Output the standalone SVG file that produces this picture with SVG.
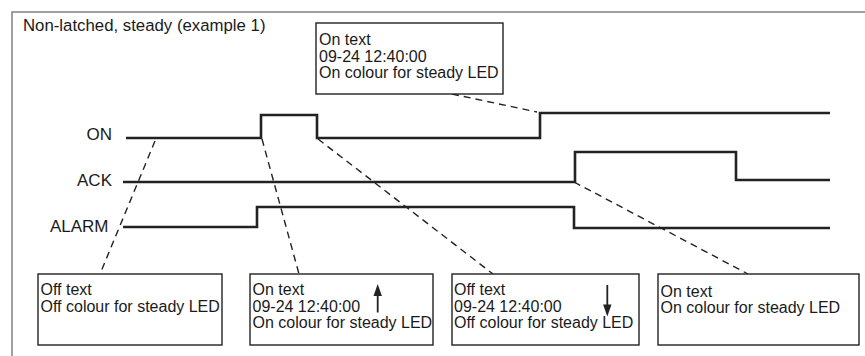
<svg xmlns="http://www.w3.org/2000/svg" width="865" height="356" viewBox="0 0 865 356">
<style>
text{font-family:"Liberation Sans",Arial,sans-serif;fill:#1a1a1a}
.t{font-size:16px}
.lbl{font-size:17px;text-anchor:end}
.box{fill:#fff;stroke:#222;stroke-width:1.4}
.sig{fill:none;stroke:#222;stroke-width:2.6;stroke-linejoin:miter}
.dash{fill:none;stroke:#222;stroke-width:1.4;stroke-dasharray:7 5}
.frame{fill:none;stroke:#808080;stroke-width:1.5}
.arr{stroke:#222;stroke-width:1.8}
.head{fill:#222}
</style>
<rect width="865" height="356" fill="#fff"/>
<path class="frame" d="M12,356 V12 H865"/>
<text x="23" y="31" style="font-size:16.8px">Non-latched, steady (example 1)</text>

<g id="signals">
<g id="sig-on"><text class="lbl" x="112" y="140">ON</text>
<path class="sig" d="M126,138 H261 V115 H317 V138 H540 V113 H830"/></g>
<g id="sig-ack"><text class="lbl" x="112" y="186">ACK</text>
<path class="sig" d="M123,182 H575 V152 H736 V180 H830"/></g>
<g id="sig-alarm"><text class="lbl" x="108.5" y="232">ALARM</text>
<path class="sig" d="M123,227 H257 V207 H574 V228 H830"/></g>
</g>

<g id="connectors">
<path class="dash" d="M155,141 L100,274"/>
<path class="dash" d="M262,139 L299,274"/>
<path class="dash" d="M318,139 L493,274"/>
<path class="dash" d="M574,182 L748,274"/>
<path class="dash" d="M452,94 L537,112"/>
</g>

<g id="box-top">
<rect class="box" x="316" y="23" width="187" height="71"/>
<text class="t" x="319" y="45">On text</text>
<text class="t" x="319" y="61.5">09-24 12:40:00</text>
<text class="t" x="319" y="78">On colour for steady LED</text>
</g>

<g id="box-1">
<rect class="box" x="38" y="274" width="184" height="71"/>
<text class="t" x="40.5" y="295">Off text</text>
<text class="t" x="40.5" y="311.5">Off colour for steady LED</text>
</g>

<g id="box-2">
<rect class="box" x="250" y="274" width="183" height="71"/>
<text class="t" x="252.5" y="295">On text</text>
<text class="t" x="252.5" y="311.5">09-24 12:40:00</text>
<text class="t" x="252.5" y="328">On colour for steady LED</text>
<path class="arr" d="M377.7,312.5 V294"/>
<polygon class="head" points="377.7,284 373.5,296 381.9,296"/>
</g>

<g id="box-3">
<rect class="box" x="452" y="274" width="187" height="71"/>
<text class="t" x="454" y="295">Off text</text>
<text class="t" x="454" y="311.5">09-24 12:40:00</text>
<text class="t" x="454" y="328">Off colour for steady LED</text>
<path class="arr" d="M607.3,285 V306"/>
<polygon class="head" points="607.3,316.5 603.1,304.5 611.5,304.5"/>
</g>

<g id="box-4">
<rect class="box" x="658" y="274" width="201" height="71"/>
<text class="t" x="660.5" y="296.5">On text</text>
<text class="t" x="660.5" y="313">On colour for steady LED</text>
</g>
</svg>
